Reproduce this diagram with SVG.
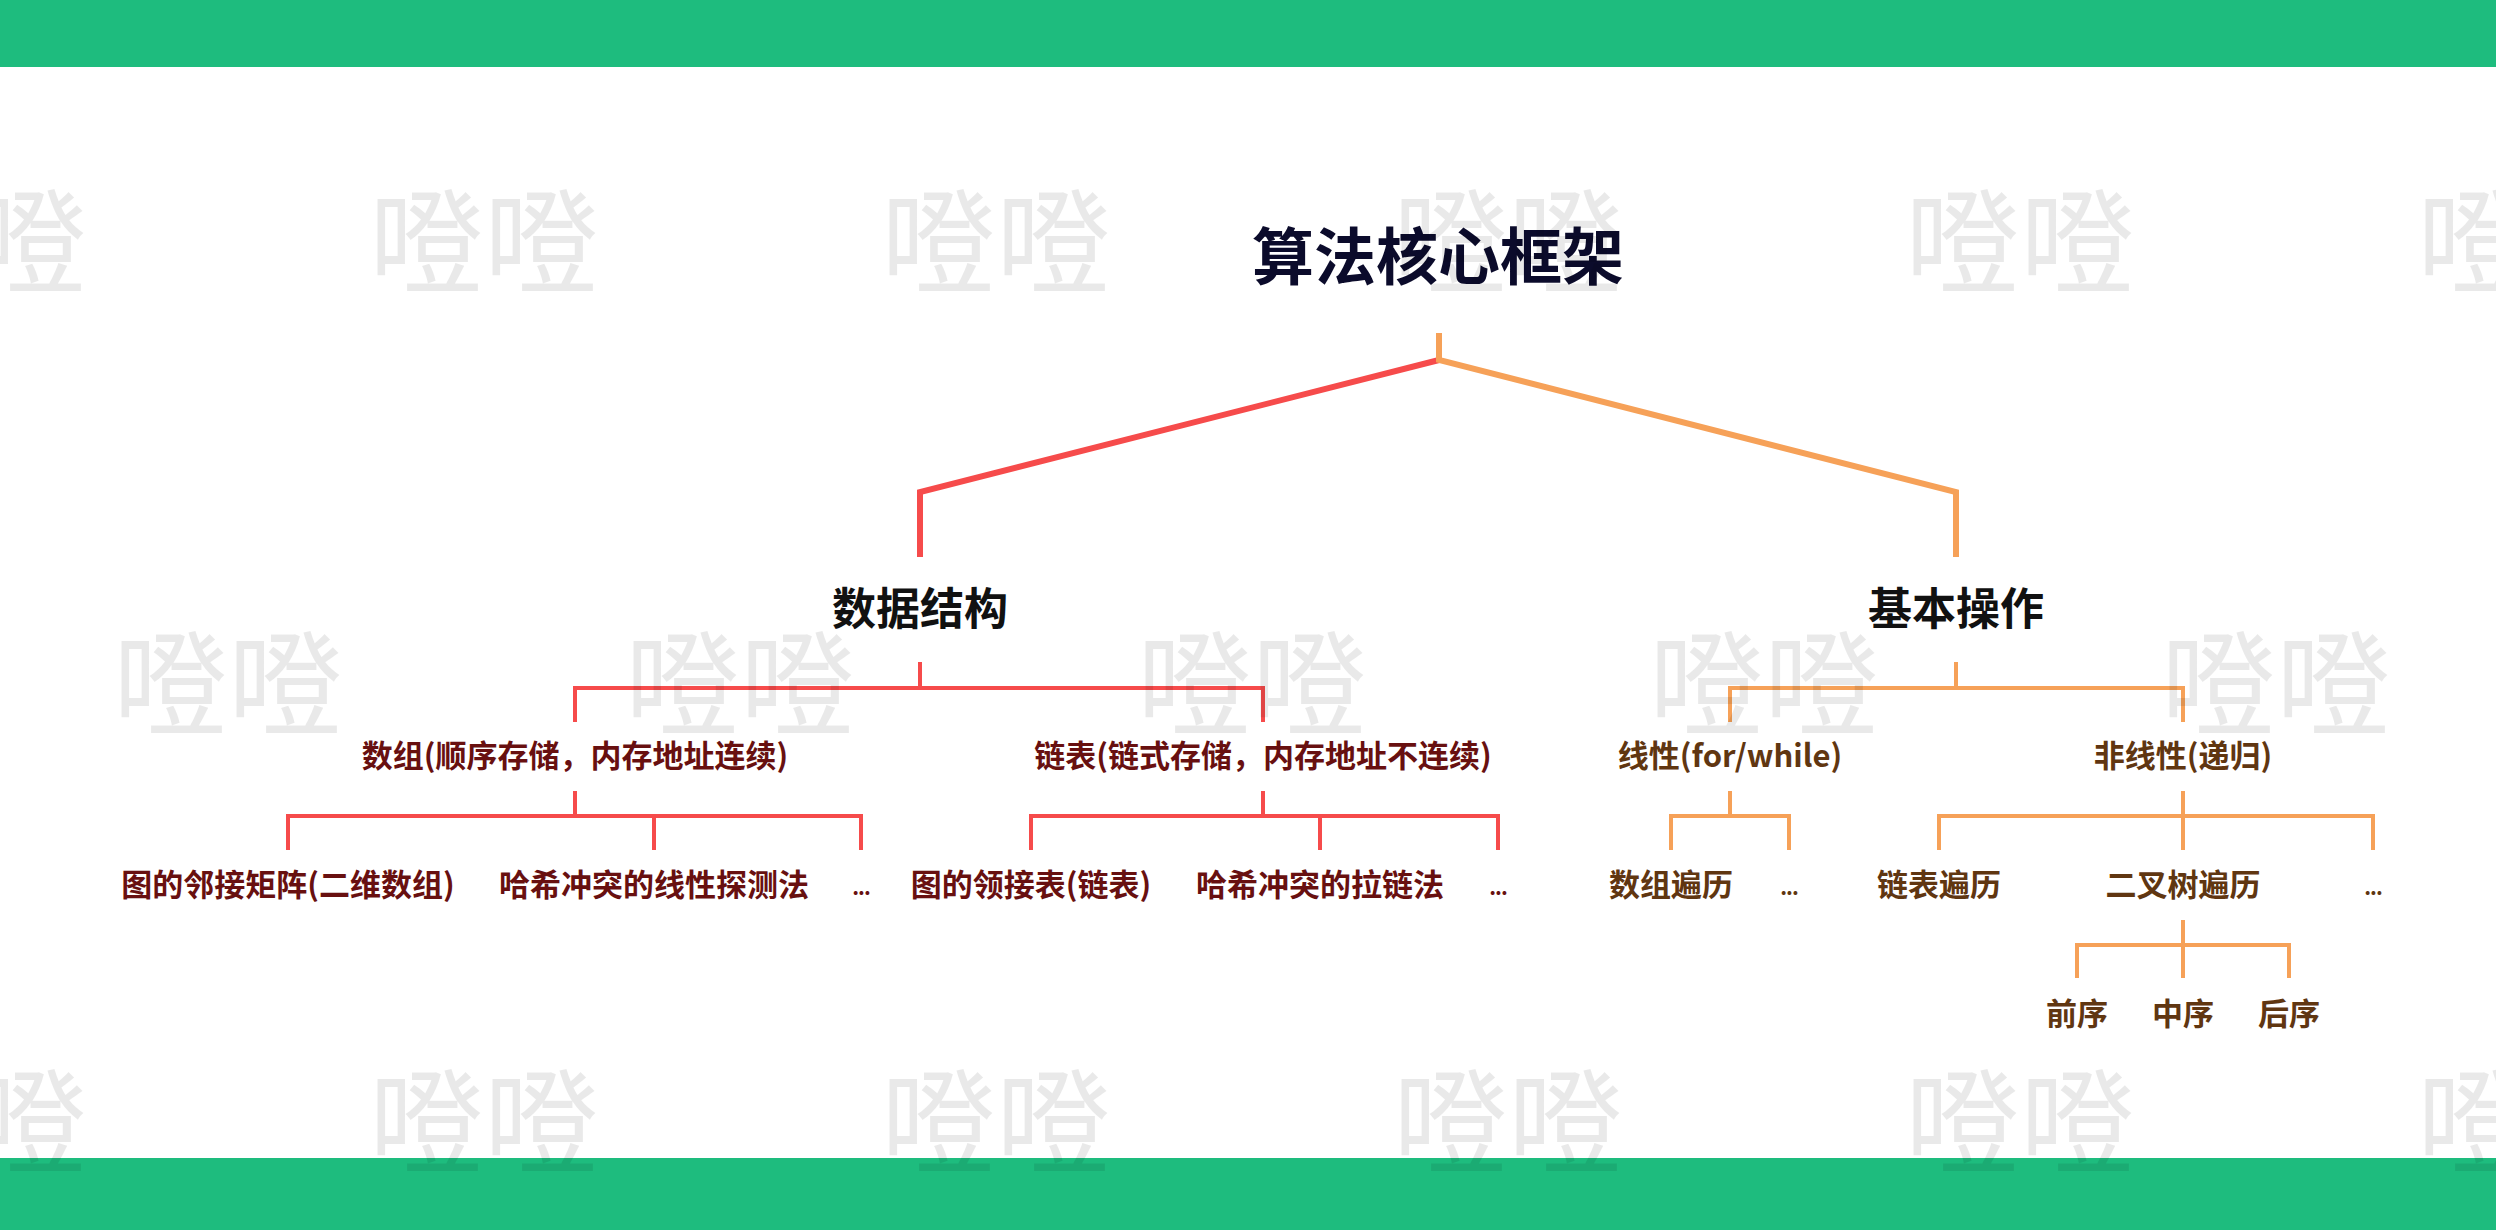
<svg xmlns="http://www.w3.org/2000/svg" width="2496" height="1230" viewBox="0 0 2496 1230">
<style>
text{font-family:"Noto Sans CJK SC","Noto Sans",sans-serif;font-weight:bold;text-anchor:middle}
.t0{font-size:62px;fill:#0b0b2b}
.t1{font-size:44px;fill:#111111}
.r{font-size:31px;fill:#681010}
.o{font-size:31px;fill:#603611}
.d{font-size:21px;letter-spacing:-1px}
.rl{fill:none;stroke:#f64b4b}
.ol{fill:none;stroke:#f6a158}
.thick{stroke-width:6}
.thin{stroke-width:4}
.wm{font-family:"Noto Sans CJK SC",sans-serif;font-weight:normal;font-size:115px;fill:#000;fill-opacity:0.087;text-anchor:start}
</style>
<rect x="0" y="0" width="2496" height="67" fill="#1ebc7e"/>
<rect x="0" y="1158" width="2496" height="72" fill="#1ebc7e"/>
<g id="connectors">
<path class="rl thick" d="M1439,360 L920,492 L920,557"/>
<path class="ol thick" d="M1439,333 L1439,360 L1956,492 L1956,557"/>
<path class="rl thin" d="M920,662 V688 M575,722 V688 H1263 V722"/>
<path class="rl thin" d="M575,791 V816 M288,850 V816 H861 V850 M654,816 V850"/>
<path class="rl thin" d="M1263,791 V816 M1031,850 V816 H1498 V850 M1320,816 V850"/>
<path class="ol thin" d="M1956,662 V688 M1730,722 V688 H2183 V722"/>
<path class="ol thin" d="M1730,791 V816 M1671,850 V816 H1789 V850"/>
<path class="ol thin" d="M2183,791 V816 M1939,850 V816 H2373 V850 M2183,816 V850"/>
<path class="ol thin" d="M2183,920 V945 M2077,978 V945 H2289 V978 M2183,945 V978"/>
</g>
<g id="root"><text class="t0" x="1438" y="280">算法核心框架</text></g>
<g id="ds"><text class="t1" x="920" y="625">数据结构</text></g>
<g id="ops"><text class="t1" x="1956" y="625">基本操作</text></g>
<g id="array"><text class="r" x="575" y="767">数组(顺序存储，内存地址连续)</text></g>
<g id="list"><text class="r" x="1263" y="767">链表(链式存储，内存地址不连续)</text></g>
<g id="linear"><text class="o" x="1730" y="767">线性(for/while)</text></g>
<g id="nonlinear"><text class="o" x="2183" y="767">非线性(递归)</text></g>
<g id="adjmatrix"><text class="r" x="288" y="896">图的邻接矩阵(二维数组)</text></g>
<g id="probe"><text class="r" x="654" y="896">哈希冲突的线性探测法</text></g>
<g id="dots1"><text class="r d" x="861" y="895">...</text></g>
<g id="adjlist"><text class="r" x="1031" y="896">图的领接表(链表)</text></g>
<g id="chain"><text class="r" x="1320" y="896">哈希冲突的拉链法</text></g>
<g id="dots2"><text class="r d" x="1498" y="895">...</text></g>
<g id="arrtrav"><text class="o" x="1671" y="896">数组遍历</text></g>
<g id="dots3"><text class="o d" x="1789" y="895">...</text></g>
<g id="listtrav"><text class="o" x="1939" y="896">链表遍历</text></g>
<g id="treetrav"><text class="o" x="2183" y="896">二叉树遍历</text></g>
<g id="dots4"><text class="o d" x="2373" y="895">...</text></g>
<g id="pre"><text class="o" x="2077" y="1025">前序</text></g>
<g id="in"><text class="o" x="2183" y="1025">中序</text></g>
<g id="post"><text class="o" x="2289" y="1025">后序</text></g>
<g id="watermark">
<text class="wm" x="-143" y="285">噔噔</text>
<text class="wm" x="369" y="285">噔噔</text>
<text class="wm" x="881" y="285">噔噔</text>
<text class="wm" x="1393" y="285">噔噔</text>
<text class="wm" x="1905" y="285">噔噔</text>
<text class="wm" x="2417" y="285">噔噔</text>
<text class="wm" x="113" y="727">噔噔</text>
<text class="wm" x="625" y="727">噔噔</text>
<text class="wm" x="1137" y="727">噔噔</text>
<text class="wm" x="1649" y="727">噔噔</text>
<text class="wm" x="2161" y="727">噔噔</text>
<text class="wm" x="-143" y="1165">噔噔</text>
<text class="wm" x="369" y="1165">噔噔</text>
<text class="wm" x="881" y="1165">噔噔</text>
<text class="wm" x="1393" y="1165">噔噔</text>
<text class="wm" x="1905" y="1165">噔噔</text>
<text class="wm" x="2417" y="1165">噔噔</text>
</g>
</svg>
